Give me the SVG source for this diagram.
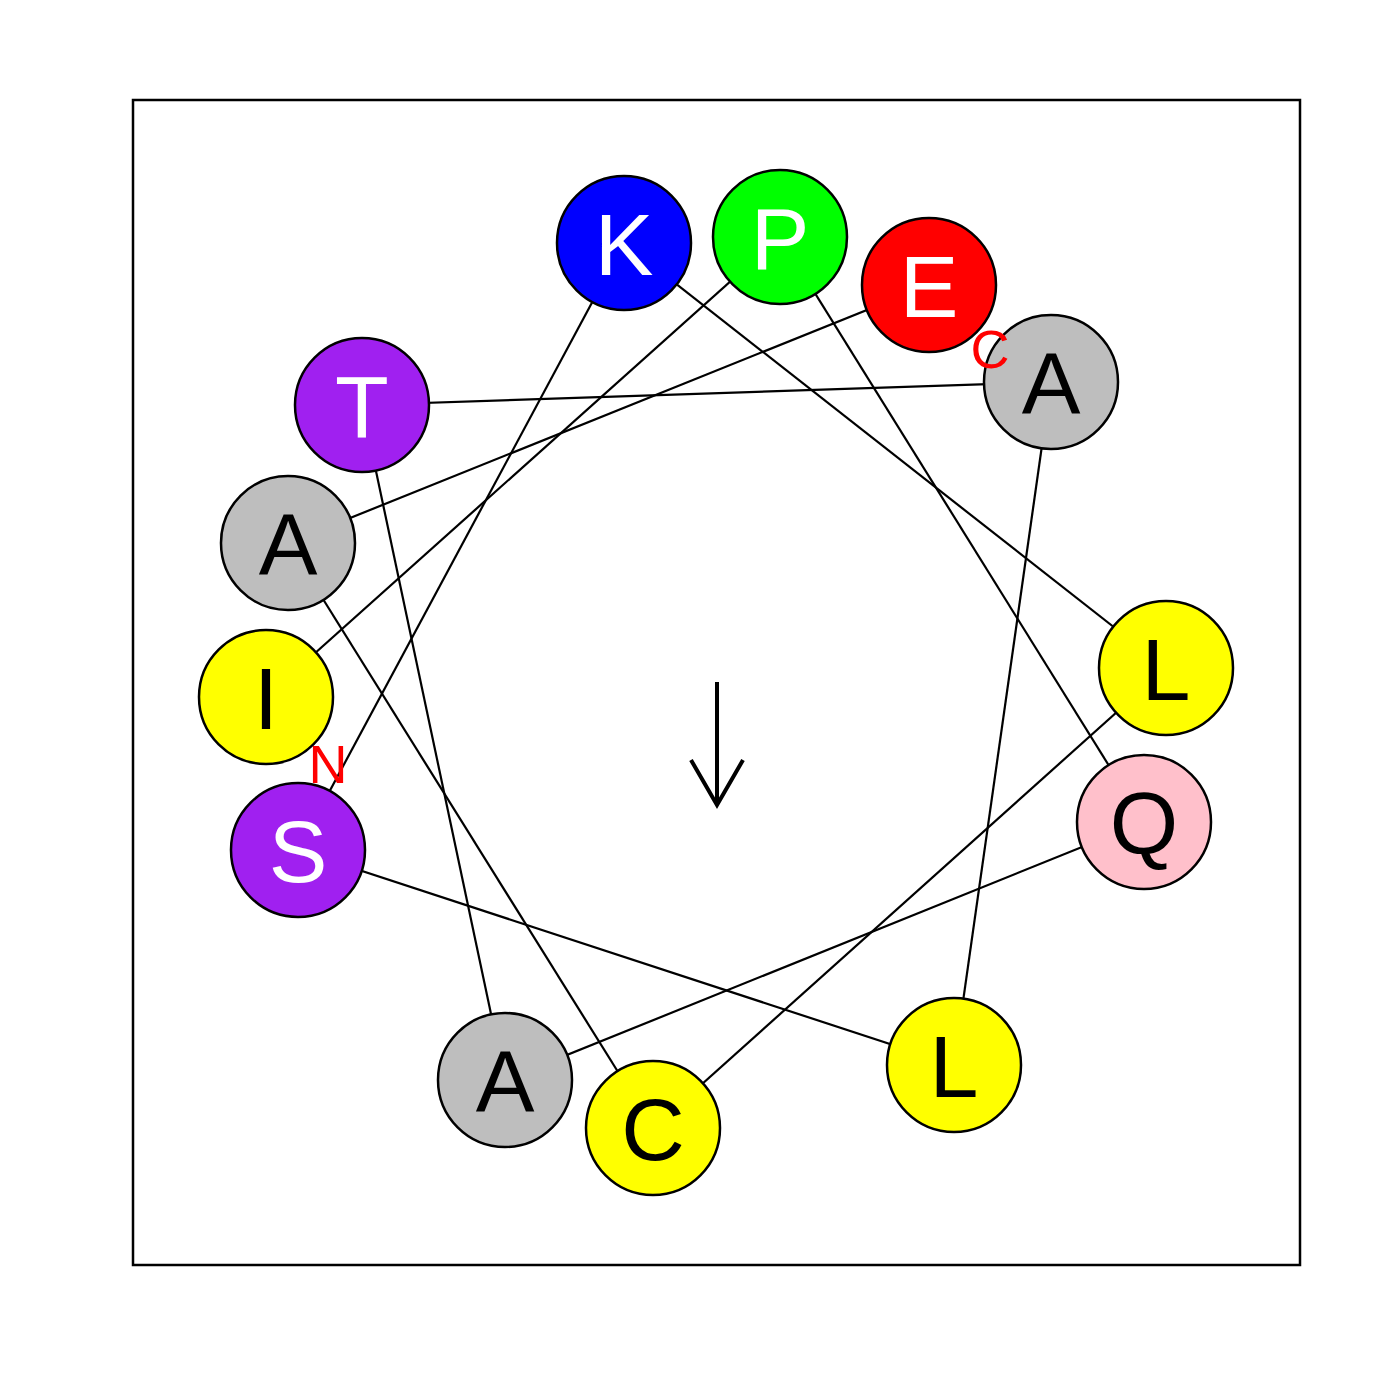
<svg xmlns="http://www.w3.org/2000/svg" width="1400" height="1400" viewBox="0 0 1400 1400">
<style>
.c{stroke:#000;stroke-width:2.5}
.t{font-family:"Liberation Sans",Arial,sans-serif;font-size:88px;text-anchor:middle}
.w{fill:#fff}.b{fill:#000}
.lab{font-family:"Liberation Sans",Arial,sans-serif;font-size:54px;fill:#f00;text-anchor:middle}
#connectors line{stroke:#000;stroke-width:2.2}
</style>
<rect x="0" y="0" width="1400" height="1400" fill="#fff"/>
<rect x="133" y="100" width="1167" height="1165" fill="none" stroke="#000" stroke-width="2.5"/>
<g id="connectors">
<line x1="266" y1="697" x2="780" y2="237"/>
<line x1="780" y1="237" x2="1144" y2="822"/>
<line x1="1144" y1="822" x2="505" y2="1080"/>
<line x1="505" y1="1080" x2="362" y2="405"/>
<line x1="362" y1="405" x2="1051" y2="382"/>
<line x1="1051" y1="382" x2="954" y2="1065"/>
<line x1="954" y1="1065" x2="298" y2="850"/>
<line x1="298" y1="850" x2="624" y2="243"/>
<line x1="624" y1="243" x2="1166" y2="668"/>
<line x1="1166" y1="668" x2="653" y2="1128"/>
<line x1="653" y1="1128" x2="288" y2="543"/>
<line x1="288" y1="543" x2="929" y2="285"/>
</g>
<g id="n1"><circle class="c" cx="266" cy="697" r="67" fill="#ffff00"/><text class="t b" x="266" y="729">I</text></g>
<g id="n2"><circle class="c" cx="780" cy="237" r="67" fill="#00ff00"/><text class="t w" x="780" y="269">P</text></g>
<g id="n3"><circle class="c" cx="1144" cy="822" r="67" fill="#ffc0cb"/><text class="t b" x="1144" y="854">Q</text></g>
<g id="n4"><circle class="c" cx="505" cy="1080" r="67" fill="#bebebe"/><text class="t b" x="505" y="1112">A</text></g>
<g id="n5"><circle class="c" cx="362" cy="405" r="67" fill="#a020f0"/><text class="t w" x="362" y="437">T</text></g>
<g id="n6"><circle class="c" cx="1051" cy="382" r="67" fill="#bebebe"/><text class="t b" x="1051" y="414">A</text></g>
<g id="n7"><circle class="c" cx="954" cy="1065" r="67" fill="#ffff00"/><text class="t b" x="954" y="1097">L</text></g>
<g id="n8"><circle class="c" cx="298" cy="850" r="67" fill="#a020f0"/><text class="t w" x="298" y="882">S</text></g>
<g id="n9"><circle class="c" cx="624" cy="243" r="67" fill="#0000ff"/><text class="t w" x="624" y="275">K</text></g>
<g id="n10"><circle class="c" cx="1166" cy="668" r="67" fill="#ffff00"/><text class="t b" x="1166" y="700">L</text></g>
<g id="n11"><circle class="c" cx="653" cy="1128" r="67" fill="#ffff00"/><text class="t b" x="653" y="1160">C</text></g>
<g id="n12"><circle class="c" cx="288" cy="543" r="67" fill="#bebebe"/><text class="t b" x="288" y="575">A</text></g>
<g id="n13"><circle class="c" cx="929" cy="285" r="67" fill="#ff0000"/><text class="t w" x="929" y="317">E</text></g>
<text class="lab" x="328" y="783">N</text>
<text class="lab" x="990" y="368">C</text>
<g id="arrow" stroke="#000" stroke-width="4" fill="none">
<line x1="717" y1="682" x2="717" y2="805"/>
<polyline points="691,760 717,805 743,760"/>
</g>
</svg>
